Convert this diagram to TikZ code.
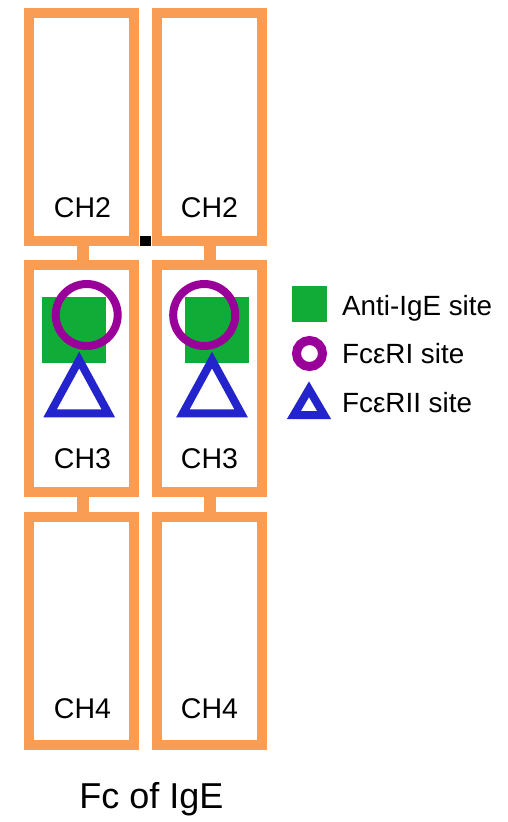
\documentclass[tikz,border=0pt]{standalone}
\usepackage{fontspec}
\setmainfont{Liberation Sans}
\definecolor{boxorange}{RGB}{250,157,84}
\definecolor{sitegreen}{RGB}{17,172,56}
\definecolor{sitepurple}{RGB}{153,0,153}
\definecolor{siteblue}{RGB}{36,36,204}
\begin{document}
\begin{tikzpicture}[x=1pt,y=-1pt,
  domainbox/.style={draw=boxorange,line width=10pt,fill=white},
  linker/.style={fill=boxorange},
  chlabel/.style={anchor=base,inner sep=0pt,font=\fontsize{28.5}{30}\selectfont},
  leglabel/.style={anchor=base west,inner sep=0pt,font=\fontsize{27.8}{30}\selectfont},
  antisite/.style={fill=sitegreen},
  risite/.style={draw=sitepurple,line width=8pt},
  riisite/.style={draw=siteblue,line width=8pt,line join=miter}]
\useasboundingbox (0,0) rectangle (507,822);
% linkers
\fill[linker] (77,240) rectangle (89,266);
\fill[linker] (203.5,240) rectangle (215.5,266);
\fill[linker] (77,491) rectangle (89,518);
\fill[linker] (203.5,491) rectangle (215.5,518);
% domain boxes
\draw[domainbox] (29,13) rectangle (134,241);
\draw[domainbox] (157,13) rectangle (262,241);
\draw[domainbox] (29,265) rectangle (134,492);
\draw[domainbox] (157,265) rectangle (262,492);
\draw[domainbox] (29,517) rectangle (134,745);
\draw[domainbox] (157,517) rectangle (262,745);
% black square
\fill[black] (139.5,235.5) rectangle (151,246);
% labels
\node[chlabel] (l2a) at (82.5,217) {CH2};
\node[chlabel] (l2b) at (209.5,217) {CH2};
\node[chlabel] (l3a) at (82.5,468) {CH3};
\node[chlabel] (l3b) at (209.5,468) {CH3};
\node[chlabel] (l4a) at (82.5,718) {CH4};
\node[chlabel] (l4b) at (209.5,718) {CH4};
% sites left
\fill[antisite] (42,297) rectangle (106,363);
\draw[risite] (86.7,315) circle (31);
\draw[riisite] (79.2,360) -- (108.3,413.3) -- (50.1,413.3) -- cycle;
% sites right
\fill[antisite] (185,297) rectangle (249,363);
\draw[risite] (204.2,315) circle (31);
\draw[riisite] (212,360) -- (241.1,413.3) -- (182.9,413.3) -- cycle;
% legend
\fill[antisite] (292,286) rectangle (327,322);
\draw[draw=sitepurple,line width=9pt] (309.5,353.5) circle (13);
\draw[riisite] (309,389.3) -- (324.1,415) -- (293.9,415) -- cycle;
\node[leglabel] (g1) at (342,315) {Anti-IgE site};
\node[leglabel] (g2) at (342,363) {FcεRI site};
\node[leglabel] (g3) at (342,412) {FcεRII site};
% title
\node[anchor=base,inner sep=0pt,font=\fontsize{36}{38}\selectfont] (title) at (151.5,808) {Fc of IgE};
\end{tikzpicture}
\end{document}
